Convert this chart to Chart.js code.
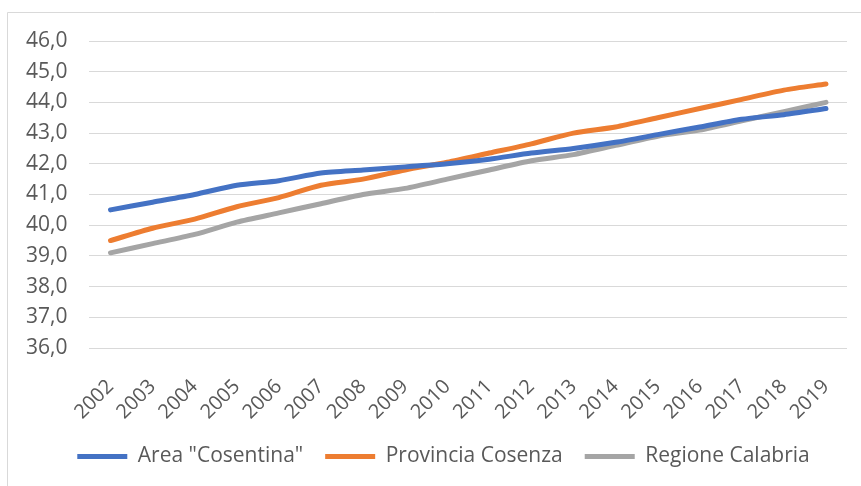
<!DOCTYPE html>
<html>
<head>
<meta charset="utf-8">
<script src="https://cdn.jsdelivr.net/npm/chart.js@4/dist/chart.umd.min.js"></script>
<style>
  html, body { margin: 0; padding: 0; background: #fff; }
  #wrap { position: relative; width: 861px; height: 486px; }
</style>
</head>
<body>
<div id="wrap"><canvas id="c" width="861" height="486"></canvas></div>
<script>
const years = ["2002","2003","2004","2005","2006","2007","2008","2009","2010","2011","2012","2013","2014","2015","2016","2017","2018","2019"];
const areaCosentina = [40.5,40.75,41.0,41.3,41.45,41.7,41.8,41.9,42.0,42.15,42.35,42.5,42.7,42.95,43.2,43.45,43.6,43.8];
const provinciaCosenza = [39.5,39.9,40.2,40.6,40.9,41.3,41.5,41.8,42.05,42.35,42.65,43.0,43.2,43.5,43.8,44.1,44.4,44.6];
const regioneCalabria = [39.1,39.4,39.7,40.1,40.4,40.7,41.0,41.2,41.5,41.8,42.1,42.3,42.6,42.9,43.1,43.4,43.7,44.0];
const yMin = 36, yMax = 46, yStep = 1;

const FONT = "'Open Sans', 'Liberation Sans', sans-serif";
const TXT = '#595959';

const borderPlugin = {
  id: 'outerBorder',
  beforeDraw(chart) {
    const ctx = chart.ctx;
    ctx.save();
    ctx.fillStyle = '#fff';
    ctx.fillRect(0, 0, chart.width, chart.height);
    ctx.strokeStyle = '#d9d9d9';
    ctx.lineWidth = 1;
    ctx.beginPath();
    ctx.moveTo(7.5, chart.height + 5);
    ctx.lineTo(7.5, 12.5);
    ctx.lineTo(chart.width + 5, 12.5);
    ctx.stroke();
    ctx.restore();
  }
};

const legendShift = {
  id: 'legendShift',
  afterLayout(chart) {
    if (chart.legend) { chart.legend.left += 18; chart.legend.right += 18; }
  }
};

function ds(label, data, color) {
  return {
    label, data,
    borderColor: color, backgroundColor: color,
    borderWidth: 5, pointRadius: 0, pointHoverRadius: 0,
    tension: 0.25, borderCapStyle: 'round', borderJoinStyle: 'round',
    pointStyle: 'line'
  };
}

new Chart(document.getElementById('c'), {
  type: 'line',
  data: {
    labels: years,
    datasets: [
      ds('Area "Cosentina"', areaCosentina, '#4472C4'),
      ds('Provincia Cosenza', provinciaCosenza, '#ED7D31'),
      ds('Regione Calabria', regioneCalabria, '#A5A5A5')
    ]
  },
  options: {
    responsive: false,
    animation: false,
    layout: { padding: { left: 4, right: 14, top: 41, bottom: 9 } },
    plugins: {
      legend: {
        position: 'bottom',
        labels: {
          usePointStyle: true,
          pointStyleWidth: 50,
          boxHeight: 5,
          padding: 22,
          color: TXT,
          font: { family: FONT, size: 21 }
        }
      },
      tooltip: { enabled: false }
    },
    scales: {
      x: {
        offset: true,
        grid: { display: false, drawTicks: false },
        border: { display: false },
        afterFit(scale) { scale.height = 76; scale.paddingRight = 0; },
        ticks: {
          color: TXT, font: { family: FONT, size: 20 },
          maxRotation: 45, minRotation: 45, autoSkip: false, padding: 27
        }
      },
      y: {
        min: yMin, max: yMax,
        grid: { color: '#d9d9d9', lineWidth: 1, drawTicks: false },
        border: { display: false },
        ticks: {
          stepSize: yStep, color: TXT, font: { family: FONT, size: 21 }, padding: 22,
          callback: v => v.toFixed(1).replace('.', ',')
        }
      }
    }
  },
  plugins: [borderPlugin, legendShift]
});
</script>
</body>
</html>
